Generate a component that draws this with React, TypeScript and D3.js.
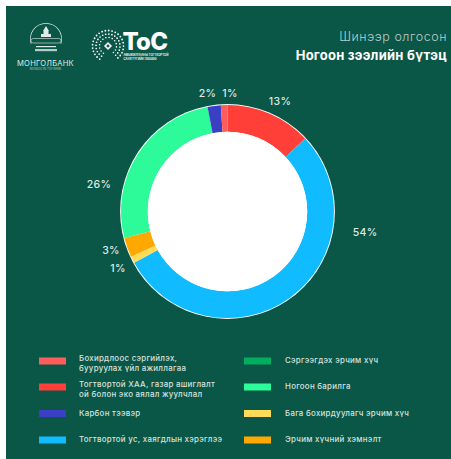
import React from "react";
import * as d3 from "d3";

const W = 451, H = 459;
const categories = [
  "Тогтвортой ХАА",
  "Тогтвортой ус",
  "Бага бохирдуулагч эрчим хүч",
  "Эрчим хүчний хэмнэлт",
  "Ногоон барилга",
  "Карбон тээвэр",
  "Бохирдлоос сэргийлэх",
];
const values = [13, 54, 1, 3, 26, 2, 1];
const sliceColors = ["#ff3f38", "#10bbff", "#ffdb58", "#ffa800", "#2dfb9a", "#3a3fc4", "#ff5c5c"];
const labelPos: [number, number][] = [
  [280, 101], [365, 232], [118, 268], [111, 250], [99, 184], [207.5, 93], [230, 93],
];

const legendLeft = [
  { color: "#ff5c5c", lines: ["Бохирдлоос сэргийлэх,", "бууруулах үйл ажиллагаа"] },
  { color: "#ff3f38", lines: ["Тогтвортой ХАА, газар ашиглалт", "ой болон эко аялал жуулчлал"] },
  { color: "#3a3fc4", lines: ["Карбон тээвэр"] },
  { color: "#10bbff", lines: ["Тогтвортой ус, хаягдлын хэрэглээ"] },
];
const legendRight = [
  { color: "#00ae5e", lines: ["Сэргээгдэх эрчим хүч"] },
  { color: "#2dfb9a", lines: ["Ногоон барилга"] },
  { color: "#ffdb58", lines: ["Бага бохирдуулагч эрчим хүч"] },
  { color: "#ffa800", lines: ["Эрчим хүчний хэмнэлт"] },
];
const rowY = [361, 387, 413.5, 440];
const FONT = "Inter, 'Open Sans', sans-serif";

function Legend({ items, x, textX }: { items: typeof legendLeft; x: number; textX: number }) {
  return (
    <g>
      {items.map((it, i) => (
        <g key={i}>
          <rect x={x} y={rowY[i] - 3.5} width={27} height={7} fill={it.color} />
          {it.lines.map((l, j) => (
            <text
              key={j}
              x={textX}
              y={it.lines.length > 1 ? rowY[i] - 3 + j * 10 : rowY[i] - 0.5}
              dy="0.35em"
              fontSize={7.9}
              fontWeight={500}
              fill="#d5e2dd"
              fontFamily={FONT}
              letterSpacing={0.28}
            >
              {l}
            </text>
          ))}
        </g>
      ))}
    </g>
  );
}

function MongolBankLogo() {
  const arc = d3.arc()({ innerRadius: 15.3, outerRadius: 16, startAngle: -Math.PI * 0.6, endAngle: Math.PI * 0.6 }) as string;
  return (
    <g fill="#dfeae6">
      <path d={arc} transform="translate(46,39)" />
      <rect x={43.5} y={31} width={5} height={6} />
      <rect x={41} y={34} width={10} height={3} />
      <path d="M43 31 L46 26 L49 31 Z" />
      <rect x={31} y={38.5} width={30} height={4.5} rx={2.2} fill="none" stroke="#dfeae6" strokeWidth={0.6} />
      <rect x={36} y={46} width={20} height={1.2} />
      <rect x={35} y={49} width={22} height={2.2} opacity={0.8} />
      <text x={45.5} y={65.5} textAnchor="middle" fontSize={7.6} fontWeight={400} fontFamily={FONT} letterSpacing={0.2}>МОНГОЛБАНК</text>
      <text x={45.5} y={69.5} textAnchor="middle" fontSize={2.8} fontFamily={FONT} opacity={0.75}>MONGOLYN TÖV BANK</text>
    </g>
  );
}

function TocLogo() {
  const rings = [
    { r: 15.5, n: 24, s: 0.9 },
    { r: 12, n: 20, s: 0.85 },
    { r: 8.5, n: 14, s: 0.8 },
  ];
  return (
    <g fill="#ffffff">
      {rings.map((ring, k) =>
        d3.range(ring.n).map((i) => {
          const a = -Math.PI * 0.82 + (i / (ring.n - 1)) * Math.PI * 1.6;
          return (
            <circle key={k + "-" + i} cx={108 + ring.r * Math.sin(a)} cy={46 - ring.r * Math.cos(a)} r={ring.s} />
          );
        })
      )}
      <path d="M108 42 L112 46 L108 50 L104 46 Z M108 44.2 L106.2 46 L108 47.8 L109.8 46 Z" fillRule="evenodd" />
      <text x={122.5} y={50} fontSize={24} fontWeight={800} fontFamily={FONT} letterSpacing={-0.8}>ToC</text>
      <text x={123.5} y={55.5} fontSize={2.9} fontFamily={FONT} fontWeight={600}>АМЬЖИЛГААНЫ ТОГТВОРТОЙ</text>
      <text x={123.5} y={60} fontSize={2.9} fontFamily={FONT} fontWeight={600}>САНХҮҮГИЙН ХӨШӨӨ</text>
    </g>
  );
}

export default function App() {
  const cx = 227.5, cy = 211.5, R = 106.5, r = 79.7;
  const pie = d3.pie<number>().sort(null).startAngle(0).endAngle(2 * Math.PI);
  const arc = d3.arc<d3.PieArcDatum<number>>().innerRadius(r).outerRadius(R);
  const arcs = pie(values);
  return (
    <svg
      width={W}
      height={H}
      viewBox={`0 0 ${W} ${H}`}
      style={{ position: "absolute", left: 0, top: 0, display: "block" }}
    >
      <rect x={0} y={0} width={W} height={H} fill="#ffffff" />
      <rect x={6} y={6} width={W - 6} height={H - 6} fill="#0a5647" />
      <MongolBankLogo />
      <TocLogo />
      <text x={447} y={37} dy="0.35em" textAnchor="end" fontSize={12.5} fontWeight={300} fill="#b7cdc6" fontFamily={FONT} letterSpacing={0.55}>
        Шинээр олгосон
      </text>
      <text x={447} y={55} dy="0.35em" textAnchor="end" fontSize={13} fontWeight={700} fill="#ffffff" fontFamily={FONT} letterSpacing={0.25}>
        Ногоон зээлийн бүтэц
      </text>
      <g transform={`translate(${cx},${cy})`}>
        <circle r={R + 0.9} fill="#ffffff" />
        {arcs.map((a, i) => (
          <path key={categories[i]} d={arc(a) as string} fill={sliceColors[i]} />
        ))}
        <circle r={r} fill="#ffffff" />
      </g>
      {values.map((v, i) => (
        <text
          key={i}
          x={labelPos[i][0]}
          y={labelPos[i][1]}
          dy="0.35em"
          textAnchor="middle"
          fontSize={10.5}
          fontWeight={500}
          fill="#dfe9e5"
          fontFamily={FONT}
          letterSpacing={0.3}
        >
          {v}%
        </text>
      ))}
      <Legend items={legendLeft} x={39} textX={79} />
      <Legend items={legendRight} x={244} textX={285} />
    </svg>
  );
}
